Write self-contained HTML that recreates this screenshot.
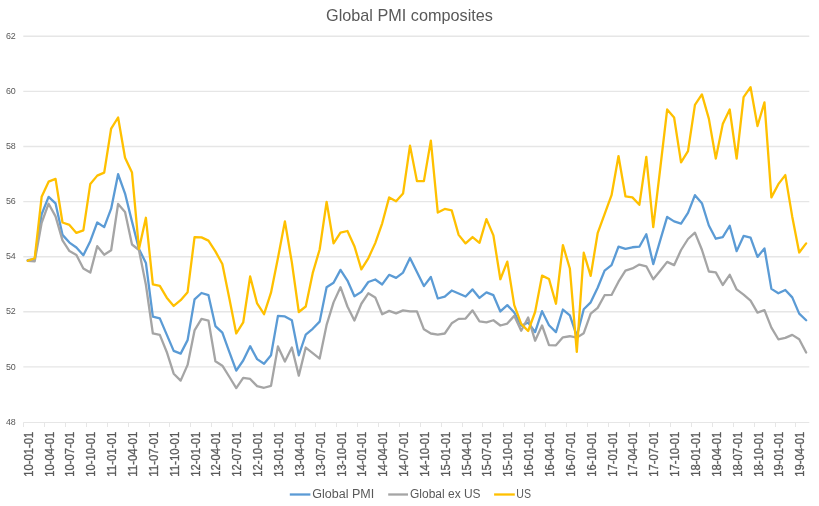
<!DOCTYPE html>
<html><head><meta charset="utf-8"><style>
html,body{margin:0;padding:0;background:#fff;width:819px;height:506px;overflow:hidden;font-family:"Liberation Sans",sans-serif}
</style></head><body>
<svg width="819" height="506" viewBox="0 0 819 506" style="position:absolute;left:0;top:0;will-change:transform"><line x1="23.3" y1="366.90" x2="809.3" y2="366.90" stroke="#E6E6E6" stroke-width="1.4"/><line x1="23.3" y1="311.80" x2="809.3" y2="311.80" stroke="#E6E6E6" stroke-width="1.4"/><line x1="23.3" y1="256.70" x2="809.3" y2="256.70" stroke="#E6E6E6" stroke-width="1.4"/><line x1="23.3" y1="201.60" x2="809.3" y2="201.60" stroke="#E6E6E6" stroke-width="1.4"/><line x1="23.3" y1="146.50" x2="809.3" y2="146.50" stroke="#E6E6E6" stroke-width="1.4"/><line x1="23.3" y1="91.40" x2="809.3" y2="91.40" stroke="#E6E6E6" stroke-width="1.4"/><line x1="23.3" y1="36.30" x2="809.3" y2="36.30" stroke="#E6E6E6" stroke-width="1.4"/><line x1="23.3" y1="422.5" x2="809.3" y2="422.5" stroke="#E6E6E6" stroke-width="1"/><line x1="23.5" y1="422.5" x2="23.5" y2="427" stroke="#E6E6E6" stroke-width="1"/><line x1="44.5" y1="422.5" x2="44.5" y2="427" stroke="#E6E6E6" stroke-width="1"/><line x1="65.5" y1="422.5" x2="65.5" y2="427" stroke="#E6E6E6" stroke-width="1"/><line x1="86.5" y1="422.5" x2="86.5" y2="427" stroke="#E6E6E6" stroke-width="1"/><line x1="107.5" y1="422.5" x2="107.5" y2="427" stroke="#E6E6E6" stroke-width="1"/><line x1="128.5" y1="422.5" x2="128.5" y2="427" stroke="#E6E6E6" stroke-width="1"/><line x1="149.5" y1="422.5" x2="149.5" y2="427" stroke="#E6E6E6" stroke-width="1"/><line x1="169.5" y1="422.5" x2="169.5" y2="427" stroke="#E6E6E6" stroke-width="1"/><line x1="190.5" y1="422.5" x2="190.5" y2="427" stroke="#E6E6E6" stroke-width="1"/><line x1="211.5" y1="422.5" x2="211.5" y2="427" stroke="#E6E6E6" stroke-width="1"/><line x1="232.5" y1="422.5" x2="232.5" y2="427" stroke="#E6E6E6" stroke-width="1"/><line x1="253.5" y1="422.5" x2="253.5" y2="427" stroke="#E6E6E6" stroke-width="1"/><line x1="274.5" y1="422.5" x2="274.5" y2="427" stroke="#E6E6E6" stroke-width="1"/><line x1="295.5" y1="422.5" x2="295.5" y2="427" stroke="#E6E6E6" stroke-width="1"/><line x1="315.5" y1="422.5" x2="315.5" y2="427" stroke="#E6E6E6" stroke-width="1"/><line x1="336.5" y1="422.5" x2="336.5" y2="427" stroke="#E6E6E6" stroke-width="1"/><line x1="357.5" y1="422.5" x2="357.5" y2="427" stroke="#E6E6E6" stroke-width="1"/><line x1="378.5" y1="422.5" x2="378.5" y2="427" stroke="#E6E6E6" stroke-width="1"/><line x1="399.5" y1="422.5" x2="399.5" y2="427" stroke="#E6E6E6" stroke-width="1"/><line x1="420.5" y1="422.5" x2="420.5" y2="427" stroke="#E6E6E6" stroke-width="1"/><line x1="441.5" y1="422.5" x2="441.5" y2="427" stroke="#E6E6E6" stroke-width="1"/><line x1="462.5" y1="422.5" x2="462.5" y2="427" stroke="#E6E6E6" stroke-width="1"/><line x1="482.5" y1="422.5" x2="482.5" y2="427" stroke="#E6E6E6" stroke-width="1"/><line x1="503.5" y1="422.5" x2="503.5" y2="427" stroke="#E6E6E6" stroke-width="1"/><line x1="524.5" y1="422.5" x2="524.5" y2="427" stroke="#E6E6E6" stroke-width="1"/><line x1="545.5" y1="422.5" x2="545.5" y2="427" stroke="#E6E6E6" stroke-width="1"/><line x1="566.5" y1="422.5" x2="566.5" y2="427" stroke="#E6E6E6" stroke-width="1"/><line x1="587.5" y1="422.5" x2="587.5" y2="427" stroke="#E6E6E6" stroke-width="1"/><line x1="608.5" y1="422.5" x2="608.5" y2="427" stroke="#E6E6E6" stroke-width="1"/><line x1="629.5" y1="422.5" x2="629.5" y2="427" stroke="#E6E6E6" stroke-width="1"/><line x1="649.5" y1="422.5" x2="649.5" y2="427" stroke="#E6E6E6" stroke-width="1"/><line x1="670.5" y1="422.5" x2="670.5" y2="427" stroke="#E6E6E6" stroke-width="1"/><line x1="691.5" y1="422.5" x2="691.5" y2="427" stroke="#E6E6E6" stroke-width="1"/><line x1="712.5" y1="422.5" x2="712.5" y2="427" stroke="#E6E6E6" stroke-width="1"/><line x1="733.5" y1="422.5" x2="733.5" y2="427" stroke="#E6E6E6" stroke-width="1"/><line x1="754.5" y1="422.5" x2="754.5" y2="427" stroke="#E6E6E6" stroke-width="1"/><line x1="775.5" y1="422.5" x2="775.5" y2="427" stroke="#E6E6E6" stroke-width="1"/><line x1="795.5" y1="422.5" x2="795.5" y2="427" stroke="#E6E6E6" stroke-width="1"/><text x="15.8" y="425" text-anchor="end" font-family="Liberation Sans" font-size="9.9" fill="#595959" textLength="9.9" lengthAdjust="spacingAndGlyphs">48</text><text x="15.8" y="370" text-anchor="end" font-family="Liberation Sans" font-size="9.9" fill="#595959" textLength="9.9" lengthAdjust="spacingAndGlyphs">50</text><text x="15.8" y="314" text-anchor="end" font-family="Liberation Sans" font-size="9.9" fill="#595959" textLength="9.9" lengthAdjust="spacingAndGlyphs">52</text><text x="15.8" y="259" text-anchor="end" font-family="Liberation Sans" font-size="9.9" fill="#595959" textLength="9.9" lengthAdjust="spacingAndGlyphs">54</text><text x="15.8" y="204" text-anchor="end" font-family="Liberation Sans" font-size="9.9" fill="#595959" textLength="9.9" lengthAdjust="spacingAndGlyphs">56</text><text x="15.8" y="149" text-anchor="end" font-family="Liberation Sans" font-size="9.9" fill="#595959" textLength="9.9" lengthAdjust="spacingAndGlyphs">58</text><text x="15.8" y="94" text-anchor="end" font-family="Liberation Sans" font-size="9.9" fill="#595959" textLength="9.9" lengthAdjust="spacingAndGlyphs">60</text><text x="15.8" y="39" text-anchor="end" font-family="Liberation Sans" font-size="9.9" fill="#595959" textLength="9.9" lengthAdjust="spacingAndGlyphs">62</text><text transform="translate(32.75,431.7) rotate(-90)" text-anchor="end" font-family="Liberation Sans" font-size="12.3" fill="#595959" stroke="#595959" stroke-width="0.3" textLength="45" lengthAdjust="spacingAndGlyphs">10-01-01</text><text transform="translate(53.60,431.7) rotate(-90)" text-anchor="end" font-family="Liberation Sans" font-size="12.3" fill="#595959" stroke="#595959" stroke-width="0.3" textLength="45" lengthAdjust="spacingAndGlyphs">10-04-01</text><text transform="translate(74.45,431.7) rotate(-90)" text-anchor="end" font-family="Liberation Sans" font-size="12.3" fill="#595959" stroke="#595959" stroke-width="0.3" textLength="45" lengthAdjust="spacingAndGlyphs">10-07-01</text><text transform="translate(95.30,431.7) rotate(-90)" text-anchor="end" font-family="Liberation Sans" font-size="12.3" fill="#595959" stroke="#595959" stroke-width="0.3" textLength="45" lengthAdjust="spacingAndGlyphs">10-10-01</text><text transform="translate(116.15,431.7) rotate(-90)" text-anchor="end" font-family="Liberation Sans" font-size="12.3" fill="#595959" stroke="#595959" stroke-width="0.3" textLength="45" lengthAdjust="spacingAndGlyphs">11-01-01</text><text transform="translate(137.00,431.7) rotate(-90)" text-anchor="end" font-family="Liberation Sans" font-size="12.3" fill="#595959" stroke="#595959" stroke-width="0.3" textLength="45" lengthAdjust="spacingAndGlyphs">11-04-01</text><text transform="translate(157.85,431.7) rotate(-90)" text-anchor="end" font-family="Liberation Sans" font-size="12.3" fill="#595959" stroke="#595959" stroke-width="0.3" textLength="45" lengthAdjust="spacingAndGlyphs">11-07-01</text><text transform="translate(178.70,431.7) rotate(-90)" text-anchor="end" font-family="Liberation Sans" font-size="12.3" fill="#595959" stroke="#595959" stroke-width="0.3" textLength="45" lengthAdjust="spacingAndGlyphs">11-10-01</text><text transform="translate(199.55,431.7) rotate(-90)" text-anchor="end" font-family="Liberation Sans" font-size="12.3" fill="#595959" stroke="#595959" stroke-width="0.3" textLength="45" lengthAdjust="spacingAndGlyphs">12-01-01</text><text transform="translate(220.40,431.7) rotate(-90)" text-anchor="end" font-family="Liberation Sans" font-size="12.3" fill="#595959" stroke="#595959" stroke-width="0.3" textLength="45" lengthAdjust="spacingAndGlyphs">12-04-01</text><text transform="translate(241.25,431.7) rotate(-90)" text-anchor="end" font-family="Liberation Sans" font-size="12.3" fill="#595959" stroke="#595959" stroke-width="0.3" textLength="45" lengthAdjust="spacingAndGlyphs">12-07-01</text><text transform="translate(262.10,431.7) rotate(-90)" text-anchor="end" font-family="Liberation Sans" font-size="12.3" fill="#595959" stroke="#595959" stroke-width="0.3" textLength="45" lengthAdjust="spacingAndGlyphs">12-10-01</text><text transform="translate(282.95,431.7) rotate(-90)" text-anchor="end" font-family="Liberation Sans" font-size="12.3" fill="#595959" stroke="#595959" stroke-width="0.3" textLength="45" lengthAdjust="spacingAndGlyphs">13-01-01</text><text transform="translate(303.80,431.7) rotate(-90)" text-anchor="end" font-family="Liberation Sans" font-size="12.3" fill="#595959" stroke="#595959" stroke-width="0.3" textLength="45" lengthAdjust="spacingAndGlyphs">13-04-01</text><text transform="translate(324.65,431.7) rotate(-90)" text-anchor="end" font-family="Liberation Sans" font-size="12.3" fill="#595959" stroke="#595959" stroke-width="0.3" textLength="45" lengthAdjust="spacingAndGlyphs">13-07-01</text><text transform="translate(345.50,431.7) rotate(-90)" text-anchor="end" font-family="Liberation Sans" font-size="12.3" fill="#595959" stroke="#595959" stroke-width="0.3" textLength="45" lengthAdjust="spacingAndGlyphs">13-10-01</text><text transform="translate(366.35,431.7) rotate(-90)" text-anchor="end" font-family="Liberation Sans" font-size="12.3" fill="#595959" stroke="#595959" stroke-width="0.3" textLength="45" lengthAdjust="spacingAndGlyphs">14-01-01</text><text transform="translate(387.20,431.7) rotate(-90)" text-anchor="end" font-family="Liberation Sans" font-size="12.3" fill="#595959" stroke="#595959" stroke-width="0.3" textLength="45" lengthAdjust="spacingAndGlyphs">14-04-01</text><text transform="translate(408.05,431.7) rotate(-90)" text-anchor="end" font-family="Liberation Sans" font-size="12.3" fill="#595959" stroke="#595959" stroke-width="0.3" textLength="45" lengthAdjust="spacingAndGlyphs">14-07-01</text><text transform="translate(428.90,431.7) rotate(-90)" text-anchor="end" font-family="Liberation Sans" font-size="12.3" fill="#595959" stroke="#595959" stroke-width="0.3" textLength="45" lengthAdjust="spacingAndGlyphs">14-10-01</text><text transform="translate(449.75,431.7) rotate(-90)" text-anchor="end" font-family="Liberation Sans" font-size="12.3" fill="#595959" stroke="#595959" stroke-width="0.3" textLength="45" lengthAdjust="spacingAndGlyphs">15-01-01</text><text transform="translate(470.60,431.7) rotate(-90)" text-anchor="end" font-family="Liberation Sans" font-size="12.3" fill="#595959" stroke="#595959" stroke-width="0.3" textLength="45" lengthAdjust="spacingAndGlyphs">15-04-01</text><text transform="translate(491.45,431.7) rotate(-90)" text-anchor="end" font-family="Liberation Sans" font-size="12.3" fill="#595959" stroke="#595959" stroke-width="0.3" textLength="45" lengthAdjust="spacingAndGlyphs">15-07-01</text><text transform="translate(512.30,431.7) rotate(-90)" text-anchor="end" font-family="Liberation Sans" font-size="12.3" fill="#595959" stroke="#595959" stroke-width="0.3" textLength="45" lengthAdjust="spacingAndGlyphs">15-10-01</text><text transform="translate(533.15,431.7) rotate(-90)" text-anchor="end" font-family="Liberation Sans" font-size="12.3" fill="#595959" stroke="#595959" stroke-width="0.3" textLength="45" lengthAdjust="spacingAndGlyphs">16-01-01</text><text transform="translate(554.00,431.7) rotate(-90)" text-anchor="end" font-family="Liberation Sans" font-size="12.3" fill="#595959" stroke="#595959" stroke-width="0.3" textLength="45" lengthAdjust="spacingAndGlyphs">16-04-01</text><text transform="translate(574.85,431.7) rotate(-90)" text-anchor="end" font-family="Liberation Sans" font-size="12.3" fill="#595959" stroke="#595959" stroke-width="0.3" textLength="45" lengthAdjust="spacingAndGlyphs">16-07-01</text><text transform="translate(595.70,431.7) rotate(-90)" text-anchor="end" font-family="Liberation Sans" font-size="12.3" fill="#595959" stroke="#595959" stroke-width="0.3" textLength="45" lengthAdjust="spacingAndGlyphs">16-10-01</text><text transform="translate(616.55,431.7) rotate(-90)" text-anchor="end" font-family="Liberation Sans" font-size="12.3" fill="#595959" stroke="#595959" stroke-width="0.3" textLength="45" lengthAdjust="spacingAndGlyphs">17-01-01</text><text transform="translate(637.40,431.7) rotate(-90)" text-anchor="end" font-family="Liberation Sans" font-size="12.3" fill="#595959" stroke="#595959" stroke-width="0.3" textLength="45" lengthAdjust="spacingAndGlyphs">17-04-01</text><text transform="translate(658.25,431.7) rotate(-90)" text-anchor="end" font-family="Liberation Sans" font-size="12.3" fill="#595959" stroke="#595959" stroke-width="0.3" textLength="45" lengthAdjust="spacingAndGlyphs">17-07-01</text><text transform="translate(679.10,431.7) rotate(-90)" text-anchor="end" font-family="Liberation Sans" font-size="12.3" fill="#595959" stroke="#595959" stroke-width="0.3" textLength="45" lengthAdjust="spacingAndGlyphs">17-10-01</text><text transform="translate(699.95,431.7) rotate(-90)" text-anchor="end" font-family="Liberation Sans" font-size="12.3" fill="#595959" stroke="#595959" stroke-width="0.3" textLength="45" lengthAdjust="spacingAndGlyphs">18-01-01</text><text transform="translate(720.80,431.7) rotate(-90)" text-anchor="end" font-family="Liberation Sans" font-size="12.3" fill="#595959" stroke="#595959" stroke-width="0.3" textLength="45" lengthAdjust="spacingAndGlyphs">18-04-01</text><text transform="translate(741.65,431.7) rotate(-90)" text-anchor="end" font-family="Liberation Sans" font-size="12.3" fill="#595959" stroke="#595959" stroke-width="0.3" textLength="45" lengthAdjust="spacingAndGlyphs">18-07-01</text><text transform="translate(762.50,431.7) rotate(-90)" text-anchor="end" font-family="Liberation Sans" font-size="12.3" fill="#595959" stroke="#595959" stroke-width="0.3" textLength="45" lengthAdjust="spacingAndGlyphs">18-10-01</text><text transform="translate(783.35,431.7) rotate(-90)" text-anchor="end" font-family="Liberation Sans" font-size="12.3" fill="#595959" stroke="#595959" stroke-width="0.3" textLength="45" lengthAdjust="spacingAndGlyphs">19-01-01</text><text transform="translate(804.20,431.7) rotate(-90)" text-anchor="end" font-family="Liberation Sans" font-size="12.3" fill="#595959" stroke="#595959" stroke-width="0.3" textLength="45" lengthAdjust="spacingAndGlyphs">19-04-01</text><polyline points="27.75,260.21 34.70,259.10 41.65,214.20 48.60,196.84 55.55,203.45 62.50,234.86 69.45,242.57 76.40,247.53 83.35,255.25 90.30,241.20 97.25,222.46 104.20,227.15 111.15,208.69 118.10,174.25 125.05,193.54 132.00,221.64 138.95,248.91 145.90,262.96 152.85,316.68 159.80,318.34 166.75,334.59 173.70,350.85 180.65,353.60 187.60,340.10 194.55,299.33 201.50,292.99 208.45,295.19 215.40,326.05 222.35,332.66 229.30,351.95 236.25,370.68 243.20,360.49 250.15,346.16 257.10,359.11 264.05,363.79 271.00,355.25 277.95,315.86 284.90,316.41 291.85,320.26 298.80,355.25 305.75,334.59 312.70,328.81 319.65,321.64 326.60,287.21 333.55,282.80 340.50,269.85 347.45,280.59 354.40,296.30 361.35,291.89 368.30,281.97 375.25,279.49 382.20,284.45 389.15,274.81 396.10,277.84 403.05,272.60 410.00,258.00 416.95,272.05 423.90,286.10 430.85,277.01 437.80,298.50 444.75,296.57 451.70,290.51 458.65,293.54 465.60,296.57 472.55,289.41 479.50,297.95 486.45,292.44 493.40,295.19 500.35,311.45 507.30,305.11 514.25,312.55 521.20,325.78 528.15,322.47 535.10,332.11 542.05,311.17 549.00,325.22 555.95,332.11 562.90,309.52 569.85,315.31 576.80,335.97 583.75,309.24 590.70,302.36 597.65,287.76 604.60,270.68 611.55,265.16 618.50,246.71 625.45,248.91 632.40,247.26 639.35,246.71 646.30,234.31 653.25,264.06 660.20,240.37 667.15,216.95 674.10,221.36 681.05,223.56 688.00,212.82 694.95,195.19 701.90,203.18 708.85,225.49 715.80,238.72 722.75,237.06 729.70,225.77 736.65,251.11 743.60,235.96 750.55,237.61 757.50,256.90 764.45,248.36 771.40,288.86 778.35,293.27 785.30,289.96 792.25,297.40 799.20,313.65 806.15,320.26" fill="none" stroke="#5B9BD5" stroke-width="2.3" stroke-linejoin="round" stroke-linecap="round"/><polyline points="27.75,260.76 34.70,261.31 41.65,222.74 48.60,203.73 55.55,216.40 62.50,240.37 69.45,251.11 76.40,254.97 83.35,268.47 90.30,272.60 97.25,246.16 104.20,254.70 111.15,250.29 118.10,204.00 125.05,211.99 132.00,244.50 138.95,250.01 145.90,284.73 152.85,333.49 159.80,334.87 166.75,351.95 173.70,373.71 180.65,380.60 187.60,364.90 194.55,330.46 201.50,318.89 208.45,320.54 215.40,361.31 222.35,365.72 229.30,376.74 236.25,388.04 243.20,377.84 250.15,378.95 257.10,386.11 264.05,387.76 271.00,385.83 277.95,346.44 284.90,361.59 291.85,347.54 298.80,375.64 305.75,347.54 312.70,353.05 319.65,358.56 326.60,324.95 333.55,302.36 340.50,287.21 347.45,306.49 354.40,320.54 361.35,303.74 368.30,293.27 375.25,297.40 382.20,314.20 389.15,310.90 396.10,313.38 403.05,310.35 410.00,311.45 416.95,311.45 423.90,329.36 430.85,333.49 437.80,334.59 444.75,333.49 451.70,323.30 458.65,318.89 465.60,318.61 472.55,310.35 479.50,321.37 486.45,322.47 493.40,320.26 500.35,325.50 507.30,323.57 514.25,315.86 521.20,330.73 528.15,317.51 535.10,340.65 542.05,325.50 549.00,345.06 555.95,345.34 562.90,337.35 569.85,336.24 576.80,337.62 583.75,333.21 590.70,313.65 597.65,307.87 604.60,295.19 611.55,294.92 618.50,281.69 625.45,270.68 632.40,268.47 639.35,264.61 646.30,266.27 653.25,279.22 660.20,270.68 667.15,261.86 674.10,265.16 681.05,250.01 688.00,238.99 694.95,232.66 701.90,249.74 708.85,271.50 715.80,272.33 722.75,285.00 729.70,274.81 736.65,289.41 743.60,294.64 750.55,300.70 757.50,312.55 764.45,310.07 771.40,327.70 778.35,339.27 785.30,337.90 792.25,334.87 799.20,339.27 806.15,352.50" fill="none" stroke="#A5A5A5" stroke-width="2.3" stroke-linejoin="round" stroke-linecap="round"/><polyline points="27.75,260.76 34.70,258.28 41.65,196.84 48.60,181.69 55.55,178.93 62.50,222.46 69.45,224.94 76.40,232.93 83.35,230.45 90.30,183.89 97.25,175.63 104.20,172.60 111.15,128.52 118.10,117.50 125.05,157.72 132.00,172.60 138.95,248.91 145.90,217.78 152.85,284.45 159.80,285.83 166.75,297.67 173.70,305.94 180.65,300.15 187.60,292.16 194.55,237.06 201.50,237.34 208.45,240.65 215.40,251.39 222.35,264.06 229.30,298.23 236.25,333.49 243.20,322.47 250.15,276.46 257.10,303.46 264.05,314.20 271.00,292.71 277.95,258.00 284.90,221.36 291.85,262.41 298.80,312.00 305.75,306.49 312.70,273.15 319.65,249.46 326.60,201.80 333.55,243.40 340.50,232.66 347.45,231.00 354.40,246.16 361.35,269.30 368.30,258.28 375.25,243.12 382.20,223.29 389.15,197.39 396.10,201.25 403.05,193.54 410.00,145.60 416.95,181.14 423.90,181.14 430.85,140.64 437.80,212.54 444.75,208.96 451.70,210.34 458.65,234.86 465.60,243.40 472.55,237.06 479.50,242.85 486.45,219.16 493.40,235.41 500.35,279.22 507.30,261.58 514.25,305.11 521.20,323.85 528.15,331.01 535.10,312.00 542.05,275.63 549.00,278.94 555.95,303.74 562.90,245.05 569.85,268.47 576.80,351.95 583.75,252.77 590.70,275.91 597.65,233.21 604.60,214.20 611.55,195.19 618.50,156.07 625.45,196.29 632.40,197.39 639.35,204.83 646.30,156.89 653.25,227.15 660.20,168.74 667.15,109.51 674.10,117.50 681.05,162.40 688.00,151.11 694.95,104.82 701.90,94.36 708.85,118.60 715.80,158.55 722.75,124.11 729.70,109.51 736.65,158.55 743.60,97.11 750.55,87.19 757.50,126.04 764.45,102.34 771.40,197.39 778.35,184.17 785.30,175.08 792.25,216.68 799.20,252.49 806.15,243.40" fill="none" stroke="#FFC000" stroke-width="2.3" stroke-linejoin="round" stroke-linecap="round"/><text x="326" y="21.3" font-family="Liberation Sans" font-size="17" fill="#595959" textLength="167" lengthAdjust="spacingAndGlyphs">Global PMI composites</text><line x1="289.8" y1="494.5" x2="310.4" y2="494.5" stroke="#5B9BD5" stroke-width="2.3"/><text x="312.3" y="498.4" font-family="Liberation Sans" font-size="12" fill="#595959" textLength="61.9" lengthAdjust="spacingAndGlyphs">Global PMI</text><line x1="388.2" y1="494.5" x2="408" y2="494.5" stroke="#A5A5A5" stroke-width="2.3"/><text x="410" y="498.4" font-family="Liberation Sans" font-size="12" fill="#595959" textLength="70.6" lengthAdjust="spacingAndGlyphs">Global ex US</text><line x1="494.1" y1="494.5" x2="514.8" y2="494.5" stroke="#FFC000" stroke-width="2.3"/><text x="516.3" y="498.4" font-family="Liberation Sans" font-size="12" fill="#595959" textLength="14.7" lengthAdjust="spacingAndGlyphs">US</text></svg>
</body></html>
